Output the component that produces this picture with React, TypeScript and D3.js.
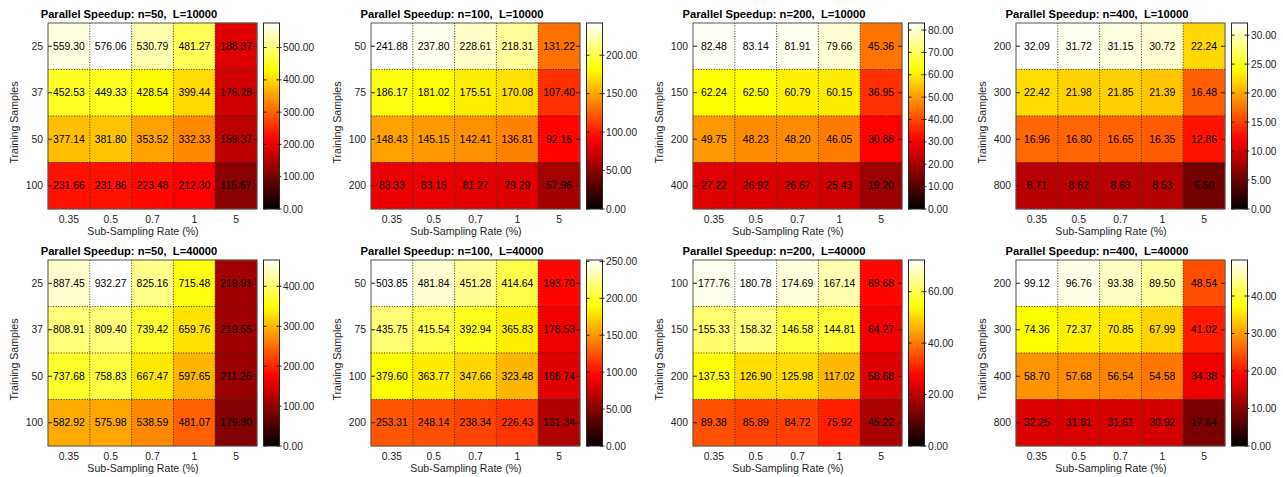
import React from "react";
import * as d3 from "d3";

// sub-sampling rates (x) shared by every panel
const rates = ["0.35", "0.5", "0.7", "1", "5"];

// training sample rows per n
const samplesN50 = ["25", "37", "50", "100"];
const samplesN100 = ["50", "75", "100", "200"];
const samplesN200 = ["100", "150", "200", "400"];
const samplesN400 = ["200", "300", "400", "800"];

// speedup values, L=10000
const speedN50L10k = [
  [559.3, 576.06, 530.79, 481.27, 188.37],
  [452.53, 449.33, 428.54, 399.44, 176.28],
  [377.14, 381.8, 353.52, 332.33, 159.37],
  [231.66, 231.86, 223.48, 212.3, 115.67],
];
const speedN100L10k = [
  [241.88, 237.8, 228.61, 218.31, 131.22],
  [186.17, 181.02, 175.51, 170.08, 107.4],
  [148.43, 145.15, 142.41, 136.81, 92.16],
  [83.33, 83.15, 81.27, 79.29, 57.96],
];
const speedN200L10k = [
  [82.48, 83.14, 81.91, 79.66, 45.36],
  [62.24, 62.5, 60.79, 60.15, 36.95],
  [49.75, 48.23, 48.2, 46.05, 30.88],
  [27.22, 26.92, 26.67, 25.43, 19.2],
];
const speedN400L10k = [
  [32.09, 31.72, 31.15, 30.72, 22.24],
  [22.42, 21.98, 21.85, 21.39, 16.48],
  [16.96, 16.8, 16.65, 16.35, 12.86],
  [8.71, 8.62, 8.63, 8.53, 5.5],
];

// speedup values, L=40000
const speedN50L40k = [
  [887.45, 932.27, 825.16, 715.48, 219.91],
  [808.91, 809.4, 739.42, 659.76, 219.55],
  [737.68, 758.83, 667.47, 597.65, 211.26],
  [582.92, 575.98, 538.59, 481.07, 179.3],
];
const speedN100L40k = [
  [503.85, 481.84, 451.28, 414.64, 193.7],
  [435.75, 415.54, 392.94, 365.83, 178.53],
  [379.6, 363.77, 347.66, 323.48, 166.74],
  [253.31, 248.14, 238.34, 226.43, 131.34],
];
const speedN200L40k = [
  [177.76, 180.78, 174.69, 167.14, 69.68],
  [155.33, 158.32, 146.58, 144.81, 64.27],
  [137.53, 126.9, 125.98, 117.02, 58.68],
  [89.38, 85.89, 84.72, 75.92, 45.22],
];
const speedN400L40k = [
  [99.12, 96.76, 93.38, 89.5, 48.54],
  [74.36, 72.37, 70.85, 67.99, 41.02],
  [58.7, 57.68, 56.54, 54.58, 34.38],
  [32.25, 31.81, 31.61, 30.92, 17.64],
];

const titles = [
  "Parallel Speedup: n=50,  L=10000",
  "Parallel Speedup: n=100,  L=10000",
  "Parallel Speedup: n=200,  L=10000",
  "Parallel Speedup: n=400,  L=10000",
  "Parallel Speedup: n=50,  L=40000",
  "Parallel Speedup: n=100,  L=40000",
  "Parallel Speedup: n=200,  L=40000",
  "Parallel Speedup: n=400,  L=40000",
];
const rowSets = [samplesN50, samplesN100, samplesN200, samplesN400];
const valueSets = [
  speedN50L10k, speedN100L10k, speedN200L10k, speedN400L10k,
  speedN50L40k, speedN100L40k, speedN200L40k, speedN400L40k,
];
// colorbar ranges as printed on each panel
const colorbarMax = [576.06, 241.88, 83.14, 32.09, 466.1, 251.9, 72.3, 49.6];
const colorbarStep = [100, 50, 10, 5, 100, 50, 20, 10];

const W = 1283;
const H = 477;
const plotLefts = [48, 371, 693, 1016];
const plotTops = [23, 260];
const plotW = 209;
const plotH = 186;
const font = "'Liberation Sans', Arial, Helvetica, sans-serif";
const axisColor = "#262626";

// matlab "hot" colormap
const hot = d3
  .scaleLinear<string>()
  .domain([0, 0.375, 0.75, 1])
  .range(["#000000", "#ff0000", "#ffff00", "#ffffff"])
  .clamp(true);

function Panel({ idx }: { idx: number }) {
  const col = idx % 4;
  const row = Math.floor(idx / 4);
  const left = plotLefts[col];
  const top = plotTops[row];
  const right = left + plotW;
  const bottom = top + plotH;
  const rows = rowSets[col];
  const values = valueSets[idx];
  const vmax = d3.max(values.flat()) as number;

  const x = d3.scaleBand<string>().domain(rates).range([left, right]).padding(0);
  const y = d3.scaleBand<string>().domain(rows).range([top, bottom]).padding(0);

  const cbX = right + 6.5;
  const cbW = 16;
  const cbY = d3.scaleLinear().domain([0, colorbarMax[idx]]).range([bottom, top]);
  const cbTicks = d3.range(0, colorbarMax[idx] + 1e-9, colorbarStep[idx]);
  const gradId = `hotgrad${idx}`;
  const fmt = d3.format(".2f");

  return (
    <g>
      <defs>
        <linearGradient id={gradId} x1="0" y1="1" x2="0" y2="0">
          <stop offset="0" stopColor="#000000" />
          <stop offset="0.375" stopColor="#ff0000" />
          <stop offset="0.75" stopColor="#ffff00" />
          <stop offset="1" stopColor="#ffffff" />
        </linearGradient>
      </defs>
      {values.map((r, i) =>
        r.map((v, j) => (
          <rect
            key={`c${i}-${j}`}
            x={x(rates[j])}
            y={y(rows[i])}
            width={x.bandwidth()}
            height={y.bandwidth()}
            fill={hot(v / vmax)}
            stroke={hot(v / vmax)}
            strokeWidth={0.5}
          />
        ))
      )}
      {/* dotted cell borders */}
      {rates.slice(1).map((r) => (
        <line key={`gx${r}`} x1={x(r)} x2={x(r)} y1={top} y2={bottom}
          stroke="#222" strokeWidth={0.9} strokeDasharray="1 1.6" />
      ))}
      {rows.slice(1).map((r) => (
        <line key={`gy${r}`} x1={left} x2={right} y1={y(r)} y2={y(r)}
          stroke="#222" strokeWidth={0.9} strokeDasharray="1 1.6" />
      ))}
      {values.map((r, i) =>
        r.map((v, j) => (
          <text
            key={`t${i}-${j}`}
            x={(x(rates[j]) as number) + x.bandwidth() / 2}
            y={(y(rows[i]) as number) + y.bandwidth() / 2 + 3.7}
            textAnchor="middle"
            fontSize={10.4}
            fill="#000"
          >
            {fmt(v)}
          </text>
        ))
      )}
      <rect x={left} y={top} width={plotW} height={plotH} fill="none" stroke="#555" strokeWidth={1} />
      {rows.map((r) => {
        const cy = (y(r) as number) + y.bandwidth() / 2;
        return (
          <g key={`yt${r}`}>
            <line x1={left} x2={left + 4} y1={cy} y2={cy} stroke={axisColor} strokeWidth={1} />
            <line x1={right - 4} x2={right} y1={cy} y2={cy} stroke={axisColor} strokeWidth={1} />
            <text x={left - 5} y={cy + 3.7} textAnchor="end" fontSize={10.4} fill={axisColor}>
              {r}
            </text>
          </g>
        );
      })}
      {rates.map((r) => (
        <text key={`xt${r}`} x={(x(r) as number) + x.bandwidth() / 2} y={bottom + 14}
          textAnchor="middle" fontSize={10.4} fill={axisColor}>
          {r}
        </text>
      ))}
      <text x={left + 95} y={bottom + 25.5} textAnchor="middle" fontSize={10.6} fill={axisColor}>
        Sub-Sampling Rate (%)
      </text>
      <text
        transform={`translate(${left - 30},${top + plotH / 2 + 6.5}) rotate(-90)`}
        textAnchor="middle"
        fontSize={10.6}
        fill={axisColor}
      >
        Training Samples
      </text>
      <text x={left + 81} y={top - 4.7} textAnchor="middle" fontSize={11.2} fontWeight="bold"
        fill="#000" style={{ whiteSpace: "pre" }}>
        {titles[idx]}
      </text>
      {/* colorbar */}
      <rect x={cbX} y={top} width={cbW} height={plotH} fill={`url(#${gradId})`} />
      {cbTicks.map((t) => (
        <g key={`cb${t}`}>
          <line x1={cbX} x2={cbX + 3} y1={cbY(t)} y2={cbY(t)} stroke={axisColor} />
          <line x1={cbX + cbW - 3} x2={cbX + cbW + 2} y1={cbY(t)} y2={cbY(t)} stroke={axisColor} />
          <text x={cbX + cbW + 3.5} y={cbY(t) + 3.6} fontSize={10.2} fill={axisColor}>
            {fmt(t)}
          </text>
        </g>
      ))}
      <rect x={cbX} y={top} width={cbW} height={plotH} fill="none" stroke={axisColor} strokeWidth={1} />
    </g>
  );
}

export default function App() {
  return (
    <svg
      width={W}
      height={H}
      style={{ position: "absolute", left: 0, top: 0, background: "#fff", fontFamily: font }}
    >
      <rect width={W} height={H} fill="#fff" />
      {d3.range(8).map((i) => (
        <Panel key={i} idx={i} />
      ))}
    </svg>
  );
}
